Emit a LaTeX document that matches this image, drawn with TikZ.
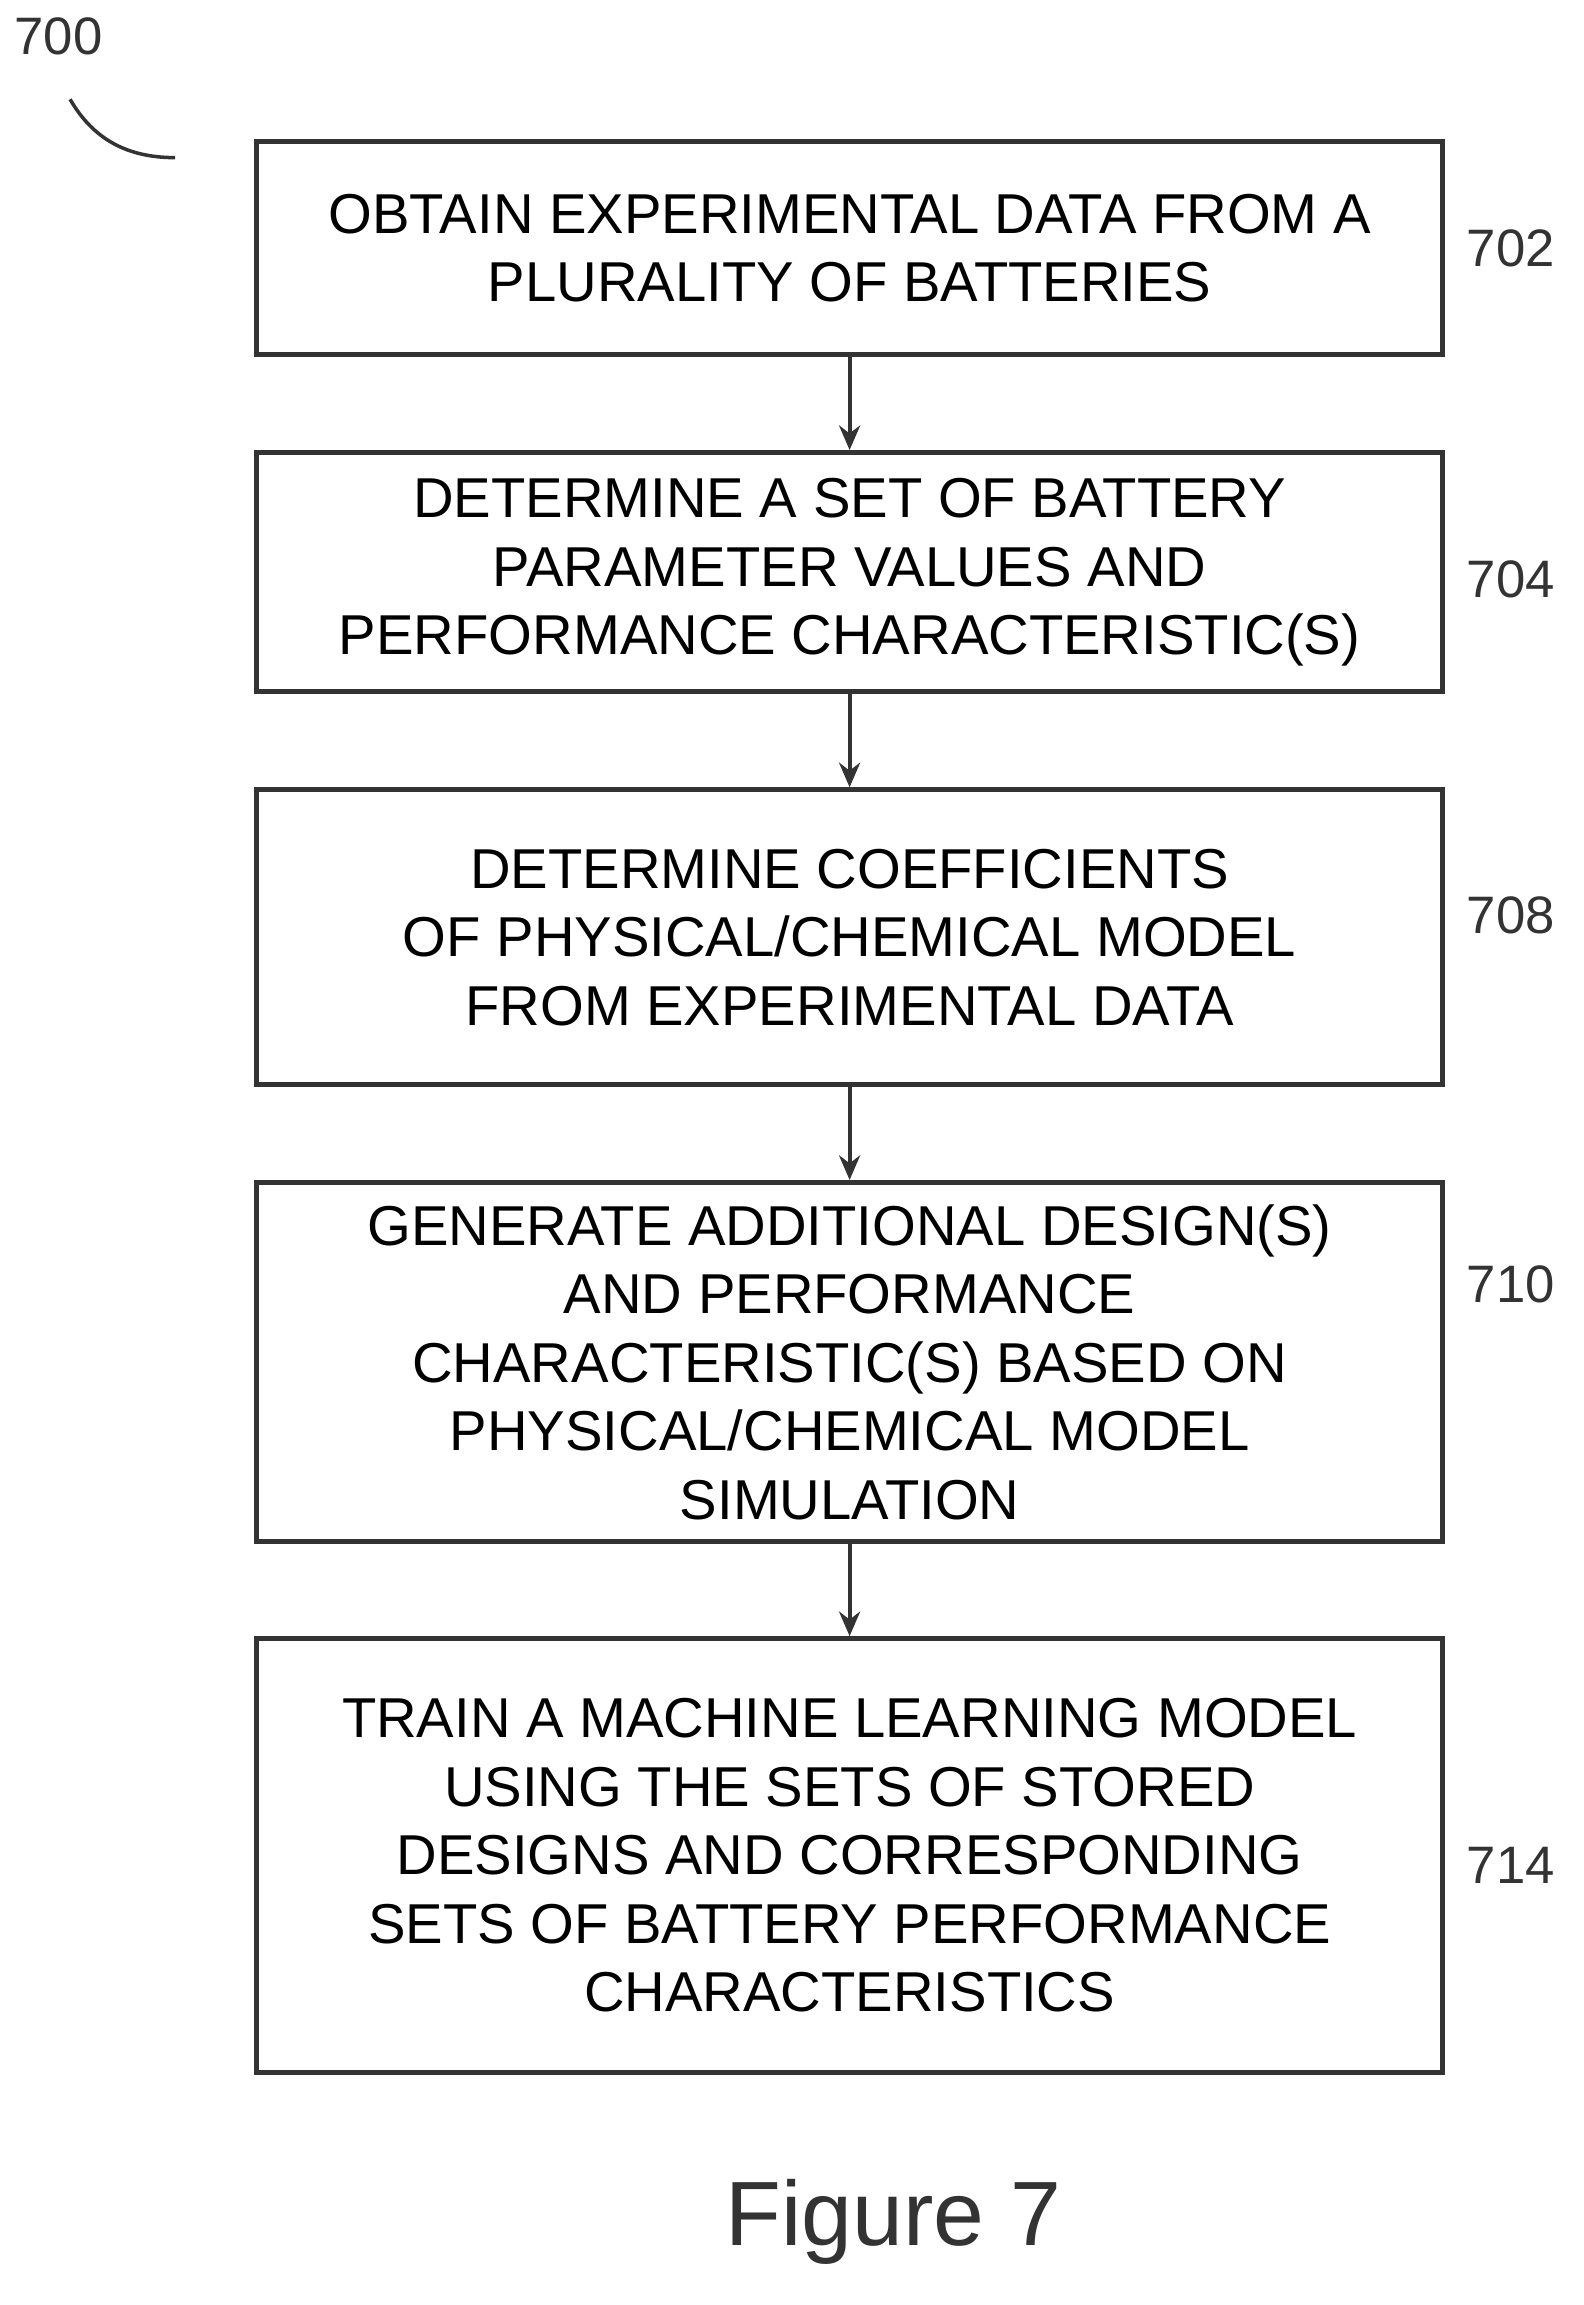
\documentclass[tikz,border=0pt]{standalone}
\usepackage{fontspec}
\setmainfont{Liberation Sans}
\usetikzlibrary{arrows.meta}
\begin{document}
\begin{tikzpicture}[x=0.0146cm,y=-0.0146cm,
  stepbox/.style={draw=black!80, line width=1.4pt, minimum width=812*0.0146cm, align=center,
    font=\fontsize{16}{19.5}\selectfont, inner sep=0pt},
  ref/.style={font=\fontsize{15}{18}\selectfont, text=black!80},
  flow/.style={-{Stealth[length=7pt,width=6pt]}, line width=1.2pt, draw=black!80}]
\useasboundingbox (0,0) rectangle (1085,1579);

\def\xmid{582};
\def\xref{1035};

% steps
\node [stepbox, minimum height=146*0.0146cm] (s702) at (\xmid,170) {OBTAIN EXPERIMENTAL DATA FROM A\\PLURALITY OF BATTERIES};
\node [stepbox, minimum height=164*0.0146cm] (s704) at (\xmid,392) {DETERMINE A SET OF BATTERY\\PARAMETER VALUES AND\\PERFORMANCE CHARACTERISTIC(S)};
\node [stepbox, minimum height=202*0.0146cm] (s708) at (\xmid,642) {DETERMINE COEFFICIENTS\\OF PHYSICAL/CHEMICAL MODEL\\FROM EXPERIMENTAL DATA};
\node [stepbox, minimum height=246*0.0146cm] (s710) at (\xmid,933) {GENERATE ADDITIONAL DESIGN(S)\\AND PERFORMANCE\\CHARACTERISTIC(S) BASED ON\\PHYSICAL/CHEMICAL MODEL\\SIMULATION};
\node [stepbox, minimum height=297*0.0146cm] (s714) at (\xmid,1271) {TRAIN A MACHINE LEARNING MODEL\\USING THE SETS OF STORED\\DESIGNS AND CORRESPONDING\\SETS OF BATTERY PERFORMANCE\\CHARACTERISTICS};

% reference numerals
\node [ref] (r702) at (\xref,170) {702};
\node [ref] (r704) at (\xref,397) {704};
\node [ref] (r708) at (\xref,627) {708};
\node [ref] (r710) at (\xref,880) {710};
\node [ref] (r714) at (\xref,1278) {714};
\node [ref] (r700) at (40,25) {700};
\draw [black!80, line width=1pt] (48,68) to [out=-60, in=180] (120,108);

% arrows
\draw [flow] (s702) -- (s704);
\draw [flow] (s704) -- (s708);
\draw [flow] (s708) -- (s710);
\draw [flow] (s710) -- (s714);

\node [font=\fontsize{26}{31}\selectfont, text=black!80] (fig) at (612,1522) {Figure 7};
\end{tikzpicture}
\end{document}
